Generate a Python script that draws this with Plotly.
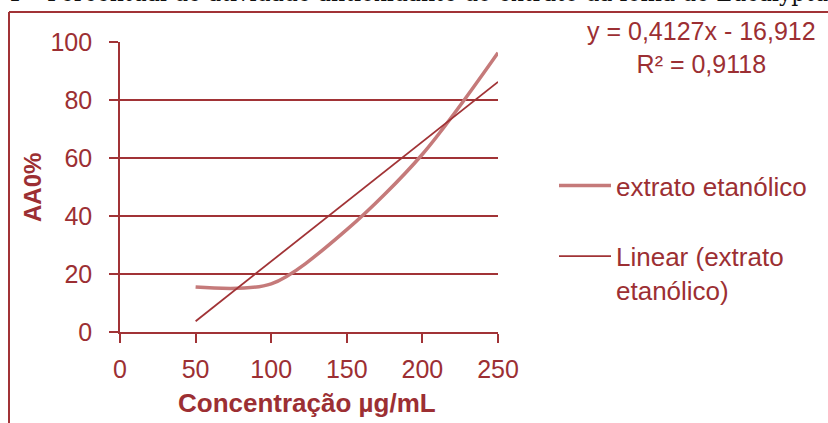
import plotly.graph_objects as go

# Concentrations tested (µg/mL) and antioxidant activity AA0% of the ethanolic extract
conc = [50, 100, 150, 200, 250]
aa_pct = [15.5, 16.6, 35.3, 61.3, 96.3]

# Linear trendline coefficients and fit quality
slope = 0.4127
intercept = -16.912
r_squared = 0.9118

x_ticks = [0, 50, 100, 150, 200, 250]
y_ticks = [0, 20, 40, 60, 80, 100]

series_name = "extrato etanólico"
trend_name = "Linear (extrato<br>etanólico)"
x_title = "Concentração µg/mL"
y_title = "AA0%"
caption = "1 – Percentual de atividade antioxidante do extrato da folha de Eucalyptus"

DARK = "#a13336"
TEXT = "#9c2f33"
CURVE = "#c57a7a"
FONT = "Liberation Sans, Arial, sans-serif"

W, H = 828, 423
L, R, T, B = 120, 330, 42, 91
PW, PH = W - L - R, H - T - B


def px(x):
    return (x - L) / PW


def py(y):
    return (H - B - y) / PH


def dec(v, nd):
    return f"{v:.{nd}f}".replace(".", ",")


trend_x = [conc[0], conc[-1]]
trend_y = [slope * v + intercept for v in trend_x]

fig = go.Figure()
fig.add_trace(go.Scatter(
    x=conc, y=aa_pct, mode="lines", name=series_name,
    line=dict(color=CURVE, width=3.5, shape="spline", smoothing=0.85),
    legendgroup="a",
))
fig.add_trace(go.Scatter(
    x=trend_x, y=trend_y, mode="lines", name=trend_name,
    line=dict(color=DARK, width=1.8),
    legendgroup="b",
))

sign = "-" if intercept < 0 else "+"
eq_text = (f"y = {dec(slope, 4)}x {sign} {dec(abs(intercept), 3)}<br>"
           f"R² = {dec(r_squared, 4)}")

annotations = [
    dict(text=eq_text, xref="paper", yref="paper", x=px(701), y=py(47),
         xanchor="center", yanchor="middle", showarrow=False, align="center",
         font=dict(family=FONT, size=25, color=TEXT)),
    dict(text=f"<b>{x_title}</b>", xref="paper", yref="paper", x=px(307), y=py(403),
         xanchor="center", yanchor="middle", showarrow=False,
         font=dict(family=FONT, size=26, color=TEXT)),
    dict(text=f"<b>{y_title}</b>", xref="paper", yref="paper", x=px(32), y=py(188),
         xanchor="center", yanchor="middle", showarrow=False, textangle=-90,
         font=dict(family=FONT, size=24, color=TEXT)),
    dict(text=caption, xref="paper", yref="paper", x=px(6), y=py(-7),
         xanchor="left", yanchor="middle", showarrow=False,
         font=dict(family="DejaVu Serif, serif", size=22, color="#111111")),
]

# Frame around the chart area (open to the right and bottom edges)
shapes = [
    dict(type="line", xref="paper", yref="paper", x0=px(9), x1=px(9), y0=py(12), y1=py(H + 10),
         line=dict(color=DARK, width=2)),
    dict(type="line", xref="paper", yref="paper", x0=px(9), x1=px(W + 10), y0=py(12), y1=py(12),
         line=dict(color=DARK, width=2)),
]

axis_common = dict(
    showline=True, linecolor=DARK, linewidth=1.6,
    ticks="outside", ticklen=9, tickwidth=1.6, tickcolor=DARK,
    tickfont=dict(family=FONT, size=25, color=TEXT),
    zeroline=False,
)

fig.update_xaxes(range=[0, 250], tickvals=x_ticks, showgrid=False,
                 ticklabelstandoff=5, **axis_common)
fig.update_yaxes(range=[0, 100], tickvals=y_ticks, showgrid=True,
                 gridcolor=DARK, gridwidth=1.6, ticklabelstandoff=12, **axis_common)

fig.update_layout(
    width=W, height=H,
    margin=dict(l=L, r=R, t=T, b=B, pad=0),
    paper_bgcolor="white", plot_bgcolor="white",
    showlegend=True,
    legend=dict(x=px(554), y=py(162), xanchor="left", yanchor="top",
                font=dict(family=FONT, size=26, color=TEXT),
                itemwidth=52, valign="top", tracegroupgap=34,
                bgcolor="rgba(0,0,0,0)"),
    annotations=annotations,
    shapes=shapes,
)

fig.write_html("out.html")
